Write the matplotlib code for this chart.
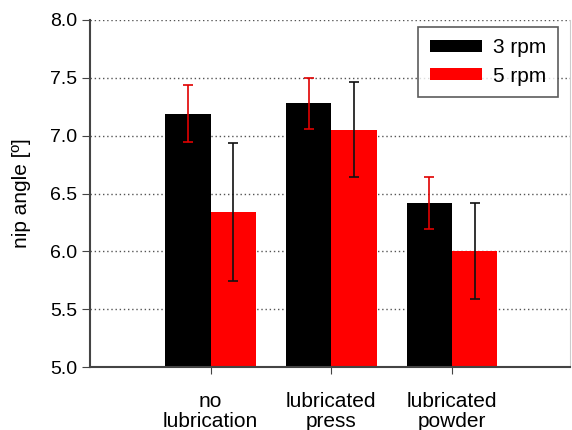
import numpy as np
import matplotlib
matplotlib.use('Agg')
import matplotlib.pyplot as plt

plt.rcParams['font.family'] = ['Liberation Sans', 'DejaVu Sans']

categories = ['no\nlubrication', 'lubricated\npress', 'lubricated\npowder']
series_names = ['3 rpm', '5 rpm']
rpm3 = [7.19, 7.28, 6.42]
rpm3_err = [0.245, 0.22, 0.225]
rpm5 = [6.34, 7.05, 6.00]
rpm5_err = [0.60, 0.41, 0.415]
yticks = [5.0, 5.5, 6.0, 6.5, 7.0, 7.5, 8.0]

fig = plt.figure(figsize=(5.72, 4.3), dpi=100)
ax = fig.add_axes([0.157, 0.1465, 0.84, 0.807])

x = np.arange(1, len(categories) + 1)
w = 0.375

ax.bar(x - w / 2, np.array(rpm3) - 5.0, w, bottom=5.0, color='black', label=series_names[0], zorder=2)
ax.bar(x + w / 2, np.array(rpm5) - 5.0, w, bottom=5.0, color='#ff0000', label=series_names[1], zorder=2)

# error bars: red on the black bars, black on the red bars
ax.errorbar(x - w / 2, rpm3, yerr=rpm3_err, fmt='none', ecolor='#e00000', elinewidth=1.2, capsize=3.5, capthick=1.2, zorder=3)
ax.errorbar(x + w / 2, rpm5, yerr=rpm5_err, fmt='none', ecolor='#111111', elinewidth=1.2, capsize=3.5, capthick=1.2, zorder=3)

ax.set_xlim(0, 3.98)
ax.set_ylim(5.0, 8.0)
ax.set_yticks(yticks)
ax.set_yticklabels(['{:.1f}'.format(v) for v in yticks])
ax.set_xticks(x)
ax.set_xticklabels(categories, linespacing=1.05)
ax.tick_params(axis='y', labelsize=14, color='#444444', length=6, pad=3)
ax.tick_params(axis='x', labelsize=15, color='#444444', length=5, pad=13)

ax.yaxis.grid(True, linestyle=(0, (1, 2)), color='#555555', linewidth=1, zorder=0)
ax.set_axisbelow(True)

ax.spines['top'].set_visible(False)
ax.spines['right'].set_color('#cccccc')
ax.spines['left'].set_color('#444444')
ax.spines['bottom'].set_color('#444444')
ax.spines['left'].set_linewidth(1.5)
ax.spines['bottom'].set_linewidth(1.5)

ax.set_ylabel('nip angle [º]', fontsize=15, labelpad=14)

leg = ax.legend(loc='upper right', bbox_to_anchor=(0.974, 0.98), borderaxespad=0, fontsize=15, frameon=True,
                fancybox=False, handlelength=2.5, handleheight=0.5, handletextpad=0.55, borderpad=0.55,
                labelspacing=0.45)
leg.get_frame().set_edgecolor('#333333')
leg.get_frame().set_linewidth(1.2)

fig.savefig('out.png', dpi=100)
